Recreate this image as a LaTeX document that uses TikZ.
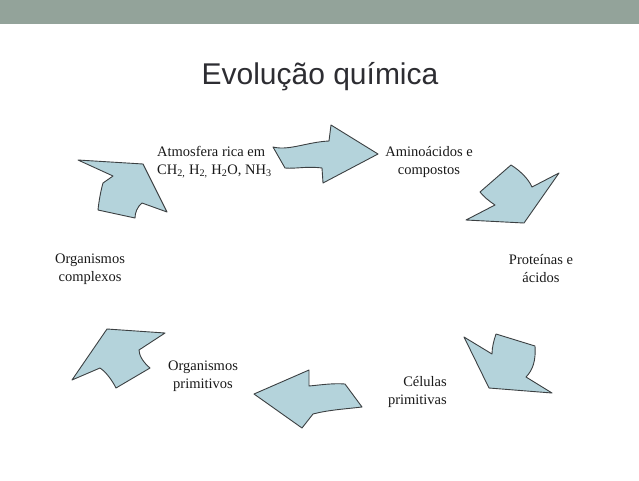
\documentclass[tikz,border=0pt]{standalone}
\usepackage{fontspec}
\setmainfont{Liberation Serif}
\newfontfamily\titlefont{Liberation Sans}
\definecolor{barcol}{RGB}{147,163,154}
\definecolor{arrowfill}{RGB}{180,211,219}
\definecolor{arrowline}{RGB}{60,64,66}
\definecolor{titlecol}{RGB}{45,45,50}
\definecolor{labelcol}{RGB}{25,25,25}
\tikzset{
  blockarrow/.style={fill=arrowfill, draw=arrowline, line width=0.9pt, line join=round},
  lbl/.style={font=\fontsize{14.5}{18}\selectfont, text=labelcol, inner sep=0pt},
}
\begin{document}
\begin{tikzpicture}[x=1pt,y=-1pt]
\useasboundingbox (0,0) rectangle (639,480);
\fill[white] (0,0) rectangle (639,480);
% top bar
\fill[barcol] (0,0) rectangle (639,24);
% title
\node[font=\titlefont\fontsize{30}{34}\selectfont, text=titlecol, anchor=base, inner sep=0pt] (title) at (320,84) {Evolução química};

% arrow 1 (top, pointing right)
\draw[blockarrow] (273,147) .. controls (289,151) and (307,142) .. (329,141) -- (331,125) -- (378,154) -- (323,183) -- (322,168) .. controls (306,166) and (296,169) .. (285,168) -- cycle;
% arrow 2 (upper right)
\draw[blockarrow] (511,165) .. controls (519,170) and (528,178) .. (532,187) -- (559,173) -- (524,223) -- (466,220) -- (495,205) .. controls (489,201) and (484,197) .. (480,192) -- cycle;
% arrow 3 (lower right)
\draw[blockarrow] (464,337) -- (492,354) .. controls (492,347) and (494,340) .. (496,334) -- (535,346) .. controls (536,360) and (533,370) .. (526,377) -- (552,393) -- (489,388) -- cycle;
% arrow 4 (bottom, pointing left)
\draw[blockarrow] (254,394) -- (309,370) -- (309,386) .. controls (320,385) and (333,383) .. (345,384) -- (362,407) .. controls (345,409) and (328,410) .. (313,414) -- (302,428) -- cycle;
% arrow 5 (lower left)
\draw[blockarrow] (72,380) -- (107,329) -- (165,333) -- (139,350) .. controls (139,356) and (144,363) .. (150,368) -- (116,388) .. controls (112,380) and (106,372) .. (100,368) -- cycle;
% arrow 6 (upper left)
\draw[blockarrow] (78,160) -- (143,164) -- (167,212) -- (142,203) .. controls (137,207) and (135,213) .. (135,218) -- (98,210) .. controls (99,200) and (101,190) .. (103,183) -- (113,176) -- cycle;

% labels
\node[lbl, align=left, anchor=west] (atm) at (157,162) {Atmosfera rica em\\CH\textsubscript{2,} H\textsubscript{2,} H\textsubscript{2}O, NH\textsubscript{3}};
\node[lbl, align=center] (amino) at (429,162) {Aminoácidos e\\compostos};
\node[lbl, align=center] (prot) at (541,269) {Proteínas e\\ácidos};
\node[lbl, align=right, anchor=east] (cel) at (447,392) {Células\\primitivas};
\node[lbl, align=center] (orgp) at (203,376) {Organismos\\primitivos};
\node[lbl, align=center] (orgc) at (90,269) {Organismos\\complexos};
\end{tikzpicture}
\end{document}
